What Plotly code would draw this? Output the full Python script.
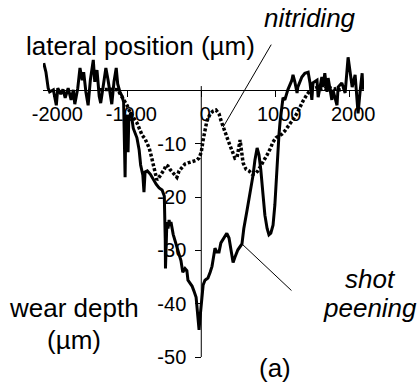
import plotly.graph_objects as go

# Wear profile across the track: lateral position (um) vs wear depth (um)
shot_x = [-2130, -2100, -2070, -2050, -2000, -1960, -1940, -1900, -1870, -1840,
          -1800, -1760, -1730, -1710, -1670, -1640, -1610, -1590, -1560, -1530,
          -1500, -1460, -1440, -1410, -1380, -1360, -1330, -1290, -1260, -1230,
          -1210, -1180, -1150, -1130, -1100, -1070, -1050, -1030, -1020, -1000,
          -990, -980, -950, -920, -900, -870, -840, -820, -790, -775,
          -760, -730, -690, -650, -610, -570, -530, -500, -490, -487,
          -484, -470, -465, -450, -435, -425, -410, -380, -355, -330,
          -300, -275, -250, -220, -195, -180, -155, -125, -100, -70,
          -60, -45, -30, -20, 0, 10, 25, 50, 90, 120,
          145, 170, 185, 210, 240, 265, 305, 345, 375, 400,
          430, 455, 495, 550, 575, 620, 660, 700, 725, 755,
          780, 805, 835, 860, 890, 915, 940, 970, 995, 1010,
          1025, 1035, 1050, 1065, 1080, 1105, 1130, 1170, 1225, 1240,
          1265, 1295, 1305, 1360, 1400, 1445, 1470, 1495, 1510, 1565,
          1580, 1630, 1645, 1670, 1700, 1715, 1765, 1780, 1835, 1850,
          1900, 1945, 1985, 2010, 2040, 2080, 2120, 2145, 2175, 2185]
shot_y = [5.1, 3.4, 0.4, -0.3, 0.1, -2.8, 0.4, -0.7, 0.2, -1.4,
          0.4, -1.8, 0.1, -2.6, 0.4, 4.2, 1.9, 3.4, -0.3, -2.8,
          1.9, 5.7, 1.6, 3.8, -1.1, -2.4, 0.4, 4.2, 1.9, -0.9,
          -2.6, 1.6, 4.2, 1.2, -0.3, -1.1, -2.2, -16.3, -5.6, -4.6,
          -11.6, -5.2, -4.1, -7.1, -8.0, -8.9, -11.2, -14.0, -15.9, -19.1,
          -15.3, -15.1, -15.7, -16.8, -17.6, -18.3, -18.7, -19.8, -23.4, -28.1,
          -33.4, -28.1, -24.7, -25.9, -24.3, -25.4, -24.7, -27.0, -28.1, -29.6,
          -30.9, -31.9, -34.1, -33.4, -33.8, -35.6, -36.1, -36.7, -37.6, -38.8,
          -40.3, -42.7, -44.9, -43.1, -40.3, -38.4, -36.5, -35.6, -35.2, -34.1,
          -33.0, -30.9, -29.6, -30.3, -30.3, -28.6, -27.7, -26.8, -27.7, -29.9,
          -32.3, -31.3, -29.9, -28.8, -25.9, -22.4, -19.4, -15.9, -13.1, -10.8,
          -12.1, -14.9, -19.6, -23.4, -25.9, -27.1, -26.8, -25.3, -21.5, -17.8,
          -13.1, -10.3, -8.4, -5.9, -4.1, -1.4, -1.8, 0.1, 1.9, 2.9,
          1.6, -0.5, 0.6, 2.5, 3.2, 3.4, 1.4, -1.8, 1.4, 1.9,
          -1.3, 2.5, 0.6, 3.2, -0.3, 2.3, -1.8, 0.1, -2.8, 0.6,
          1.4, -0.5, 6.2, 3.8, 0.6, 2.9, -4.3, -0.5, 3.2, 0.1]

nitr_x = [-1370, -1230, -1130, -1085, -1050, -1000, -965, -910, -870, -830,
          -800, -760, -730, -705, -680, -650, -625, -600, -560, -530,
          -500, -475, -450, -425, -395, -355, -330, -300, -260, -220,
          -180, -140, -100, -60, -30, 0, 25, 50, 75, 120,
          160, 200, 240, 265, 295, 320, 360, 390, 430, 455,
          485, 510, 525, 535, 550, 565, 605, 645, 685, 725,
          765, 805, 850, 890, 930, 970, 1010, 1050, 1090, 1130,
          1170, 1210, 1255, 1295, 1335, 1375, 1415, 1455, 1495, 1535,
          1580, 1630, 1670, 1715, 1755, 1795, 1835, 1875, 1915, 1955]
nitr_y = [0.1, 0.2, 0.1, -0.9, -1.8, -2.9, -4.1, -5.2, -6.1, -7.4,
          -8.4, -9.1, -9.9, -10.8, -12.1, -14.0, -15.7, -16.8, -16.1, -15.5,
          -14.8, -14.0, -14.2, -14.8, -15.3, -16.1, -16.3, -15.1, -14.4, -13.8,
          -13.6, -13.4, -13.3, -13.1, -12.7, -11.6, -9.3, -7.1, -5.8, -4.4,
          -3.9, -3.7, -4.4, -5.6, -6.9, -8.0, -9.3, -10.4, -11.9, -12.7,
          -12.5, -10.3, -9.3, -10.4, -12.1, -13.6, -14.8, -15.1, -15.7, -15.7,
          -15.1, -14.2, -13.3, -12.1, -11.0, -9.7, -8.9, -8.6, -8.2, -7.6,
          -6.9, -6.1, -5.2, -4.3, -3.1, -2.0, -1.1, -0.3, 0.2, 0.4,
          0.6, 0.2, 0.4, 0.1, 0.4, 0.2, 0.4, 0.1, 0.2, 0.4]

x_ticks = [-2000, -1000, 0, 1000, 2000]
y_ticks = [-10, -20, -30, -40, -50]

X_RANGE = [-2140, 2200]
Y_RANGE = [-50, 7]
FONT = "Liberation Sans, Arial, sans-serif"


def to_paper(x, y):
    """Convert data coordinates to paper fractions (works outside the axis range)."""
    px = (x - X_RANGE[0]) / (X_RANGE[1] - X_RANGE[0])
    py = (y - Y_RANGE[0]) / (Y_RANGE[1] - Y_RANGE[0])
    return px, py


fig = go.Figure()
fig.add_trace(go.Scatter(x=nitr_x, y=nitr_y, mode="lines",
                         line=dict(color="black", width=3.5, dash="3px,2px"),
                         name="nitriding"))
fig.add_trace(go.Scatter(x=shot_x, y=shot_y, mode="lines",
                         line=dict(color="black", width=3),
                         name="shot peening"))

# vertical axis line drawn only from 0 down to -50
fig.add_shape(type="line", xref="x", yref="y", x0=0, x1=0, y0=0.8, y1=-50,
              line=dict(color="black", width=1))

text_font = dict(family=FONT, size=26, color="black")
italic_font = dict(family=FONT, size=26, color="black", style="italic")


def label(text, x, y, font):
    px, py = to_paper(x, y)
    fig.add_annotation(text=text, x=px, y=py, xref="paper", yref="paper",
                       showarrow=False, font=font,
                       xanchor="center", yanchor="middle")


label("lateral position (µm)", -822, 8.3, text_font)
label("nitriding", 1470, 13.6, italic_font)
label("shot", 2294, -35.4, italic_font)
label("peening", 2280, -40.8, italic_font)
label("wear depth", -1720, -40.8, text_font)
label("(µm)", -1720, -46.9, text_font)
label("(a)", 998, -52.0, text_font)

# leader lines from the labels to the curves
for px, py, ax, ay in [(295, -6.9, 49, -84), (550, -28.8, 51, 48)]:
    fig.add_annotation(x=px, y=py, xref="x", yref="y", text="", showarrow=True,
                       arrowhead=0, arrowwidth=1, arrowcolor="black",
                       standoff=0, ax=ax, ay=ay)

fig.update_layout(
    width=419, height=384,
    margin=dict(l=43, r=55, t=53, b=27),
    paper_bgcolor="white", plot_bgcolor="white",
    showlegend=False,
    xaxis=dict(range=X_RANGE, anchor="free",
               position=(0 - Y_RANGE[0]) / (Y_RANGE[1] - Y_RANGE[0]),
               showline=True, linecolor="black", linewidth=1,
               ticks="outside", ticklen=6, tickwidth=1, tickcolor="black",
               tickvals=x_ticks, ticktext=[str(v) for v in x_ticks],
               tickfont=dict(family=FONT, size=20, color="black"),
               ticklabelshift=4,
               showgrid=False, zeroline=False),
    yaxis=dict(range=Y_RANGE, anchor="free",
               position=(0 - X_RANGE[0]) / (X_RANGE[1] - X_RANGE[0]),
               showline=False,
               ticks="outside", ticklen=6, tickwidth=1, tickcolor="black",
               tickvals=y_ticks, ticktext=[str(v) for v in y_ticks],
               tickfont=dict(family=FONT, size=20, color="black"),
               ticklabelstandoff=5,
               showgrid=False, zeroline=False),
)

fig.write_html("out.html")
